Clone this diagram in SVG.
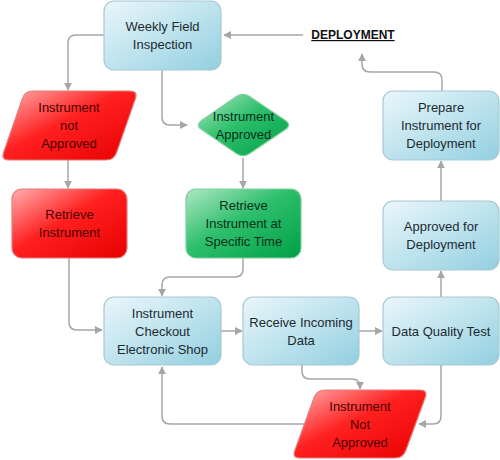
<svg xmlns="http://www.w3.org/2000/svg" width="500" height="460" viewBox="0 0 500 460">
<style>
.t{font-family:"Liberation Sans",Arial,sans-serif;font-size:13px;text-anchor:middle}
.tb{fill:#1c2a30}
.tr{fill:#4a0000}
.tg{fill:#06301a}
.blue{fill:url(#gb);stroke:#a7c8d4;stroke-width:1.2}
.red{fill:url(#gr);stroke:#e87a7a;stroke-width:1.2}
.green{fill:url(#gg);stroke:#7fcf9b;stroke-width:1.2}
.c{fill:none;stroke:#a6a6a6;stroke-width:1.5;marker-end:url(#ah)}
.cn{fill:none;stroke:#a6a6a6;stroke-width:1.5}
</style>
<defs>
<linearGradient id="gb" x1="0" y1="0" x2="1" y2="1">
<stop offset="0" stop-color="#eaf6fa"/>
<stop offset="0.45" stop-color="#c3e5ef"/>
<stop offset="1" stop-color="#92cfe0"/>
</linearGradient>
<linearGradient id="gr" x1="0" y1="0" x2="1" y2="1">
<stop offset="0" stop-color="#ffb0b0"/>
<stop offset="0.45" stop-color="#ff2020"/>
<stop offset="1" stop-color="#e80000"/>
</linearGradient>
<linearGradient id="gg" x1="0" y1="0" x2="1" y2="1">
<stop offset="0" stop-color="#b0e8c4"/>
<stop offset="0.45" stop-color="#2ebf6c"/>
<stop offset="1" stop-color="#00a048"/>
</linearGradient>
<marker id="ah" viewBox="0 0 10 10" refX="9" refY="5" markerWidth="8" markerHeight="8" markerUnits="userSpaceOnUse" orient="auto">
<path d="M0,0 L10,5 L0,10 Z" fill="#a6a6a6"/>
</marker>
</defs>

<g id="connectors">
<path class="c" d="M303,35 H224"/>
<path class="c" d="M442,91 V80 Q442,72 434,72 H370 Q362,72 362,64 V54"/>
<path class="c" d="M104,35 H76 Q68,35 68,43 V90"/>
<path class="c" d="M162,70 V117 Q162,125 170,125 H187"/>
<path class="c" d="M68,160 V188"/>
<path class="c" d="M243,158 V188"/>
<path class="c" d="M69,258 V322 Q69,330 77,330 H102"/>
<path class="c" d="M243,258 V269 Q243,277 235,277 H170 Q162,277 162,285 V296"/>
<path class="c" d="M221,331 H242"/>
<path class="c" d="M359,331 H382"/>
<path class="c" d="M441,297 V271"/>
<path class="c" d="M441,201 V161"/>
<path class="c" d="M302,365 V371 Q302,379 310,379 H352 Q360,379 360,387 V389"/>
<path class="c" d="M441,365 V416 Q441,424 433,424 H419"/>
<path class="c" d="M304,424 H170 Q162,424 162,416 V367"/>
</g>

<g id="weekly">
<rect class="blue" x="104" y="1" width="117" height="69" rx="10"/>
<text class="t tb" x="162.5" y="30.5">Weekly Field</text>
<text class="t tb" x="162.5" y="48.5">Inspection</text>
</g>

<g id="deployment">
<text x="353" y="39" style="font-family:'Liberation Sans',Arial,sans-serif;font-size:12px;font-weight:bold;text-anchor:middle;text-decoration:underline" fill="#111">DEPLOYMENT</text>
</g>

<g id="not-approved-1">
<path class="red" d="M33,91 H130 Q138,91 135.4,98.6 L116.6,152.4 Q114,160 106,160 H9 Q1,160 3.6,152.4 L22.4,98.6 Q25,91 33,91 Z"/>
<text class="t tr" x="69" y="112">Instrument</text>
<text class="t tr" x="69" y="130">not</text>
<text class="t tr" x="69" y="148">Approved</text>
</g>

<g id="approved">
<path class="green" d="M201.6,120.5 L236.4,96.5 Q243,92 249.6,96.5 L285.4,120.5 Q292,125 285.4,129.5 L249.6,153.5 Q243,158 236.4,153.5 L201.6,129.5 Q195,125 201.6,120.5 Z"/>
<text class="t tg" x="243.5" y="120.5">Instrument</text>
<text class="t tg" x="243.5" y="138.5">Approved</text>
</g>

<g id="prepare">
<rect class="blue" x="383" y="91" width="116" height="69" rx="10"/>
<text class="t tb" x="441" y="112">Prepare</text>
<text class="t tb" x="441" y="130">Instrument for</text>
<text class="t tb" x="441" y="148">Deployment</text>
</g>

<g id="retrieve">
<rect class="red" x="12" y="189" width="115" height="69" rx="10"/>
<text class="t tr" x="69.5" y="219">Retrieve</text>
<text class="t tr" x="69.5" y="237">Instrument</text>
</g>

<g id="retrieve-specific">
<rect class="green" x="186" y="189" width="115" height="69" rx="10"/>
<text class="t tg" x="243.5" y="210">Retrieve</text>
<text class="t tg" x="243.5" y="228">Instrument at</text>
<text class="t tg" x="243.5" y="246">Specific Time</text>
</g>

<g id="approved-deployment">
<rect class="blue" x="383" y="201" width="116" height="69" rx="10"/>
<text class="t tb" x="441" y="231">Approved for</text>
<text class="t tb" x="441" y="249">Deployment</text>
</g>

<g id="checkout">
<rect class="blue" x="104" y="297" width="117" height="68" rx="10"/>
<text class="t tb" x="162.5" y="317.5">Instrument</text>
<text class="t tb" x="162.5" y="335.5">Checkout</text>
<text class="t tb" x="162.5" y="353.5">Electronic Shop</text>
</g>

<g id="receive">
<rect class="blue" x="243" y="297" width="116" height="68" rx="10"/>
<text class="t tb" x="301" y="326.5">Receive Incoming</text>
<text class="t tb" x="301" y="344.5">Data</text>
</g>

<g id="quality">
<rect class="blue" x="383" y="297" width="116" height="68" rx="10"/>
<text class="t tb" x="441" y="335.5">Data Quality Test</text>
</g>

<g id="not-approved-2">
<path class="red" d="M325,390 H420 Q428,390 425.2,397.5 L405.8,450.5 Q403,458 395,458 H300 Q292,458 294.8,450.5 L314.2,397.5 Q317,390 325,390 Z"/>
<text class="t tr" x="360" y="410.5">Instrument</text>
<text class="t tr" x="360" y="428.5">Not</text>
<text class="t tr" x="360" y="446.5">Approved</text>
</g>
</svg>
